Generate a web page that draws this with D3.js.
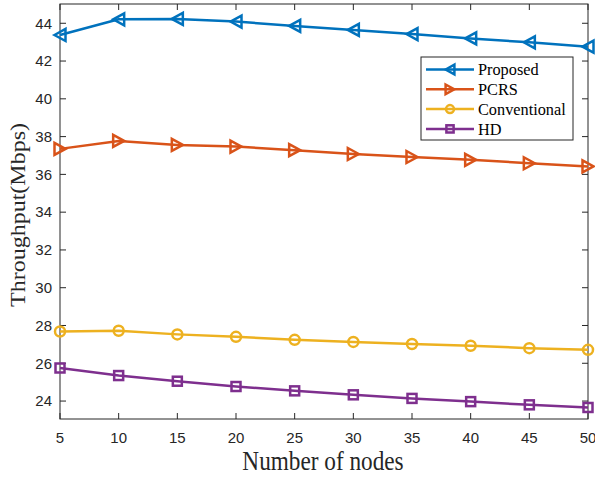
<!DOCTYPE html>
<html>
<head>
<meta charset="utf-8">
<script src="https://cdn.jsdelivr.net/npm/d3@7.9.0/dist/d3.min.js"></script>
<style>
  body { margin: 0; background: #fff; }
  svg { display: block; }
</style>
</head>
<body>
<svg id="chart" width="595" height="478"></svg>
<script>
// ---- data ----
const nodes = [5, 10, 15, 20, 25, 30, 35, 40, 45, 50];
const proposed = [43.38, 44.21, 44.23, 44.09, 43.86, 43.65, 43.43, 43.2, 42.99, 42.76];
const pcrs = [37.35, 37.77, 37.56, 37.47, 37.28, 37.08, 36.92, 36.77, 36.59, 36.42];
const conventional = [27.68, 27.72, 27.53, 27.4, 27.24, 27.13, 27.02, 26.93, 26.8, 26.71];
const hd = [25.75, 25.35, 25.05, 24.77, 24.54, 24.33, 24.14, 23.97, 23.8, 23.66];
const yTicks = [24, 26, 28, 30, 32, 34, 36, 38, 40, 42, 44];
const seriesNames = ['Proposed', 'PCRS', 'Conventional', 'HD'];

const series = [
  { name: seriesNames[0], values: proposed, color: '#0072BD', marker: 'triLeft' },
  { name: seriesNames[1], values: pcrs, color: '#D95319', marker: 'triRight' },
  { name: seriesNames[2], values: conventional, color: '#EDB120', marker: 'circle' },
  { name: seriesNames[3], values: hd, color: '#7E2F8E', marker: 'square' }
];

// ---- layout ----
const plotLeft = 60, plotRight = 588, plotTop = 4, plotBottom = 419;
const axisColor = '#262626';
const squeeze = 0.83; // the reference figure is a bit narrower than tall

const x = d3.scaleLinear().domain([5, 50]).range([plotLeft, plotRight]);
const y = d3.scaleLinear().domain([23.05, 45.02]).range([plotBottom, plotTop]);

const svg = d3.select('#chart');

// box
svg.append('rect')
  .attr('x', plotLeft).attr('y', plotTop)
  .attr('width', plotRight - plotLeft).attr('height', plotBottom - plotTop)
  .attr('fill', 'none').attr('stroke', axisColor).attr('stroke-width', 1);

// ticks (inward, on all four sides like MATLAB box on)
const tickLen = 6;
const tickG = svg.append('g').attr('stroke', axisColor).attr('stroke-width', 1);
nodes.forEach(v => {
  tickG.append('line').attr('x1', x(v)).attr('x2', x(v)).attr('y1', plotBottom).attr('y2', plotBottom - tickLen);
  tickG.append('line').attr('x1', x(v)).attr('x2', x(v)).attr('y1', plotTop).attr('y2', plotTop + tickLen);
});
yTicks.forEach(v => {
  tickG.append('line').attr('x1', plotLeft).attr('x2', plotLeft + tickLen).attr('y1', y(v)).attr('y2', y(v));
  tickG.append('line').attr('x1', plotRight).attr('x2', plotRight - tickLen).attr('y1', y(v)).attr('y2', y(v));
});

// tick labels
const tickFont = 'Liberation Sans, Arial, Helvetica, sans-serif';
svg.append('g').selectAll('text').data(nodes).join('text')
  .attr('x', d => x(d)).attr('y', plotBottom + 24)
  .attr('text-anchor', 'middle')
  .attr('font-family', tickFont).attr('font-size', 15)
  .attr('fill', axisColor)
  .text(d => d);

svg.append('g').selectAll('text').data(yTicks).join('text')
  .attr('x', plotLeft - 8).attr('y', d => y(d)).attr('dy', '0.35em')
  .attr('text-anchor', 'end')
  .attr('font-family', tickFont).attr('font-size', 15)
  .attr('fill', axisColor)
  .text(d => d);

// axis titles
const serif = 'Liberation Serif, Times New Roman, serif';
svg.append('text')
  .attr('transform', `translate(${(plotLeft + plotRight) / 2 - 1},470) scale(${squeeze},1)`)
  .attr('text-anchor', 'middle')
  .attr('font-family', serif).attr('font-size', 28)
  .attr('fill', axisColor)
  .text('Number of nodes');

svg.append('text')
  .attr('transform', `translate(25,${215}) scale(${squeeze},1) rotate(-90)`)
  .attr('text-anchor', 'middle')
  .attr('font-family', serif).attr('font-size', 24)
  .attr('fill', axisColor)
  .text('Throughput(Mbps)');

// markers
function drawMarker(g, type, cx, cy, color, scale) {
  const s = scale || 1;
  if (type === 'triLeft' || type === 'triRight') {
    const w = 5.5 * s, h = 6 * s;
    const dir = type === 'triLeft' ? -1 : 1;
    const pts = [[cx + dir * w, cy], [cx - dir * w, cy - h], [cx - dir * w, cy + h]];
    g.append('path').attr('d', 'M' + pts.join('L') + 'Z')
      .attr('fill', 'none').attr('stroke', color).attr('stroke-width', 2.5)
      .attr('stroke-linejoin', 'miter');
  } else if (type === 'circle') {
    g.append('circle').attr('cx', cx).attr('cy', cy).attr('r', 5 * s)
      .attr('fill', 'none').attr('stroke', color).attr('stroke-width', 2.5);
  } else {
    const h = 4.5 * s;
    g.append('rect').attr('x', cx - h).attr('y', cy - h).attr('width', 2 * h).attr('height', 2 * h)
      .attr('fill', 'none').attr('stroke', color).attr('stroke-width', 2.5);
  }
}

// lines
const line = d3.line().x((d, i) => x(nodes[i])).y(d => y(d));
series.forEach(s => {
  const g = svg.append('g');
  g.append('path').datum(s.values)
    .attr('d', line)
    .attr('fill', 'none').attr('stroke', s.color).attr('stroke-width', 2.5)
    .attr('stroke-linejoin', 'round');
  s.values.forEach((v, i) => drawMarker(g, s.marker, x(nodes[i]), y(v), s.color));
});

// legend
const lg = svg.append('g');
lg.append('rect')
  .attr('x', 421).attr('y', 57).attr('width', 152).attr('height', 83)
  .attr('fill', '#fff').attr('stroke', axisColor).attr('stroke-width', 1);
series.forEach((s, i) => {
  const ly = 69.5 + i * 19.8;
  lg.append('line').attr('x1', 426).attr('x2', 474).attr('y1', ly).attr('y2', ly)
    .attr('stroke', s.color).attr('stroke-width', 2.5);
  drawMarker(lg, s.marker, 450, ly, s.color, 0.8);
  lg.append('text').attr('x', 478).attr('y', ly).attr('dy', '0.35em')
    .attr('font-family', serif).attr('font-size', 16.3)
    .attr('fill', '#000')
    .text(s.name);
});
</script>
</body>
</html>
